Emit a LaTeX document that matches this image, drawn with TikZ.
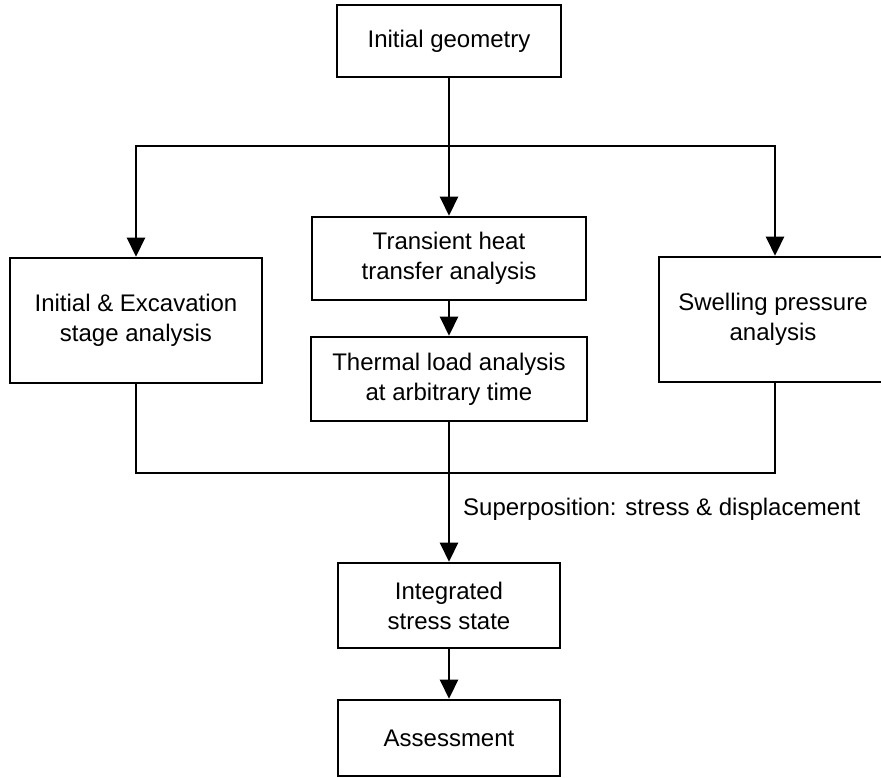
\documentclass[tikz,border=0pt]{standalone}
\usepackage{fontspec}
\setmainfont{Liberation Sans}
\usetikzlibrary{arrows.meta}
\begin{document}
\begin{tikzpicture}[x=1pt,y=1pt,
  box/.style={draw=black,line width=2.6pt,fill=white,align=center,inner sep=0pt,
    font=\fontsize{24}{30}\selectfont},
  conn/.style={draw=black,line width=2.6pt},
  arr/.style={conn,-{Triangle[length=19pt,width=18pt]}},
  lbl/.style={font=\fontsize{24}{30}\selectfont,inner sep=0pt}]
\clip (0,0) rectangle (881,777);
\node[box,minimum width=224pt,minimum height=72pt] (geom) at (449,736) {Initial geometry};
\node[box,minimum width=252pt,minimum height=125pt] (left) at (136,456.5) {Initial \& Excavation\\stage analysis};
\node[box,minimum width=274pt,minimum height=83pt] (trans) at (449,518.5) {Transient heat\\transfer analysis};
\node[box,minimum width=276pt,minimum height=84pt] (therm) at (449,398) {Thermal load analysis\\at arbitrary time};
\node[box,minimum width=232pt,minimum height=125pt] (right) at (775,457.5) {\hspace*{-4pt}Swelling pressure\\\hspace*{-4pt}analysis};
\node[box,minimum width=222pt,minimum height=85pt] (integ) at (449,171.5) {Integrated\\stress state};
\node[box,minimum width=222pt,minimum height=76pt] (assess) at (449,39) {Assessment};
\coordinate (tj) at (449,631);
\coordinate (bj) at (449,304);
\node[lbl,anchor=west] (sup) at (463,268) {Superposition: stress \& displacement};
\draw[arr] (geom.south) -- (trans.north);
\draw[conn] (left.north |- tj) -- (right.north |- tj);
\draw[arr] (tj) -| (left.north);
\draw[arr] (tj) -| (right.north);
\draw[arr] (trans.south) -- (therm.north);
\draw[conn] (left.south) |- (bj);
\draw[conn] (right.south) |- (bj);
\draw[arr] (therm.south) -- (integ.north);
\draw[arr] (integ.south) -- (assess.north);
\end{tikzpicture}
\end{document}
